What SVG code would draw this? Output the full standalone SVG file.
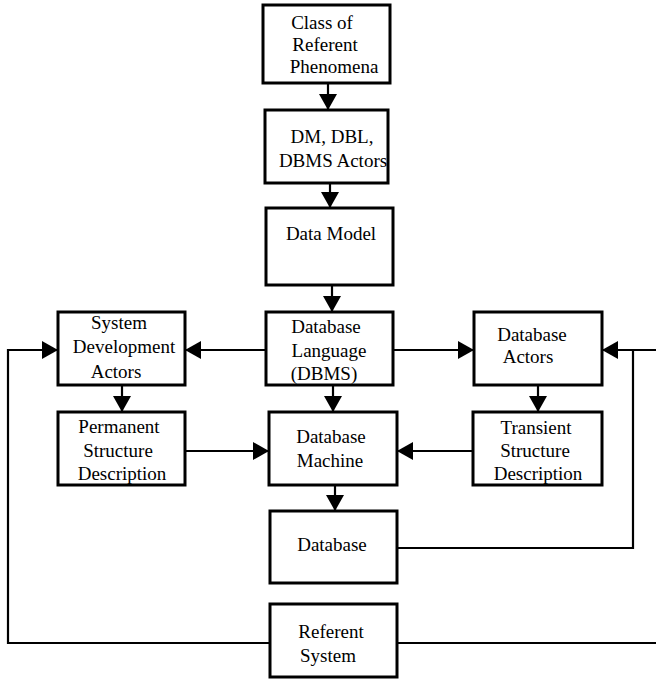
<svg xmlns="http://www.w3.org/2000/svg" width="656" height="679" viewBox="0 0 656 679">
<style>
.box{fill:#fff;stroke:#000;stroke-width:3}
.t{font-family:"Liberation Serif","Times New Roman",serif;font-size:19px;fill:#000;text-anchor:middle}
.c{fill:none;stroke:#000;stroke-width:2.2}
</style>
<defs>
<marker id="ah" markerUnits="userSpaceOnUse" markerWidth="16" markerHeight="18" refX="16" refY="9" orient="auto">
<path d="M0,0 L16,9 L0,18 z" fill="#000"/>
</marker>
</defs>
<rect width="656" height="679" fill="#fff"/>
<g id="connectors">
<line class="c" x1="328" y1="83" x2="328" y2="110" marker-end="url(#ah)"/>
<line class="c" x1="330" y1="183" x2="330" y2="208" marker-end="url(#ah)"/>
<line class="c" x1="332" y1="285" x2="332" y2="312" marker-end="url(#ah)"/>
<line class="c" x1="333" y1="385" x2="333" y2="412" marker-end="url(#ah)"/>
<line class="c" x1="335" y1="485" x2="335" y2="511" marker-end="url(#ah)"/>
<line class="c" x1="266" y1="350" x2="185" y2="350" marker-end="url(#ah)"/>
<line class="c" x1="393" y1="350" x2="474" y2="350" marker-end="url(#ah)"/>
<line class="c" x1="122" y1="385" x2="122" y2="412" marker-end="url(#ah)"/>
<line class="c" x1="538" y1="385" x2="538" y2="412" marker-end="url(#ah)"/>
<line class="c" x1="185" y1="451" x2="269" y2="451" marker-end="url(#ah)"/>
<line class="c" x1="473" y1="451" x2="397" y2="451" marker-end="url(#ah)"/>
<polyline class="c" points="397,548 633,548 633,350"/>
<line class="c" x1="656" y1="350" x2="602" y2="350" marker-end="url(#ah)"/>
<polyline class="c" points="270,643 8,643 8,350 58,350" marker-end="url(#ah)"/>
<line class="c" x1="397" y1="643" x2="656" y2="643"/>
</g>
<g id="class-referent">
<rect class="box" x="263" y="5" width="127" height="78"/>
<text class="t" x="322" y="29">Class of</text>
<text class="t" x="325" y="51">Referent</text>
<text class="t" x="334" y="73">Phenomena</text>
</g>
<g id="dm-actors">
<rect class="box" x="265" y="110" width="123" height="73"/>
<text class="t" x="332" y="143">DM, DBL,</text>
<text class="t" x="333" y="167">DBMS Actors</text>
</g>
<g id="data-model">
<rect class="box" x="266" y="208" width="127" height="77"/>
<text class="t" x="331" y="240">Data Model</text>
</g>
<g id="db-language">
<rect class="box" x="266" y="312" width="127" height="73"/>
<text class="t" x="326" y="333">Database</text>
<text class="t" x="329" y="357">Language</text>
<text class="t" x="324" y="380">(DBMS)</text>
</g>
<g id="sysdev-actors">
<rect class="box" x="58" y="312" width="127" height="73"/>
<text class="t" x="119" y="329">System</text>
<text class="t" x="124" y="353">Development</text>
<text class="t" x="116" y="378">Actors</text>
</g>
<g id="db-actors">
<rect class="box" x="474" y="312" width="128" height="73"/>
<text class="t" x="532" y="341">Database</text>
<text class="t" x="528" y="363">Actors</text>
</g>
<g id="permanent">
<rect class="box" x="58" y="412" width="127" height="73"/>
<text class="t" x="119" y="433">Permanent</text>
<text class="t" x="118" y="457">Structure</text>
<text class="t" x="122" y="480">Description</text>
</g>
<g id="db-machine">
<rect class="box" x="269" y="412" width="128" height="73"/>
<text class="t" x="331" y="443">Database</text>
<text class="t" x="330" y="467">Machine</text>
</g>
<g id="transient">
<rect class="box" x="473" y="412" width="129" height="73"/>
<text class="t" x="536" y="434">Transient</text>
<text class="t" x="535" y="457">Structure</text>
<text class="t" x="538" y="480">Description</text>
</g>
<g id="database">
<rect class="box" x="270" y="511" width="127" height="72"/>
<text class="t" x="332" y="551">Database</text>
</g>
<g id="referent-system">
<rect class="box" x="270" y="604" width="127" height="73"/>
<text class="t" x="331" y="638">Referent</text>
<text class="t" x="328" y="662">System</text>
</g>
</svg>
